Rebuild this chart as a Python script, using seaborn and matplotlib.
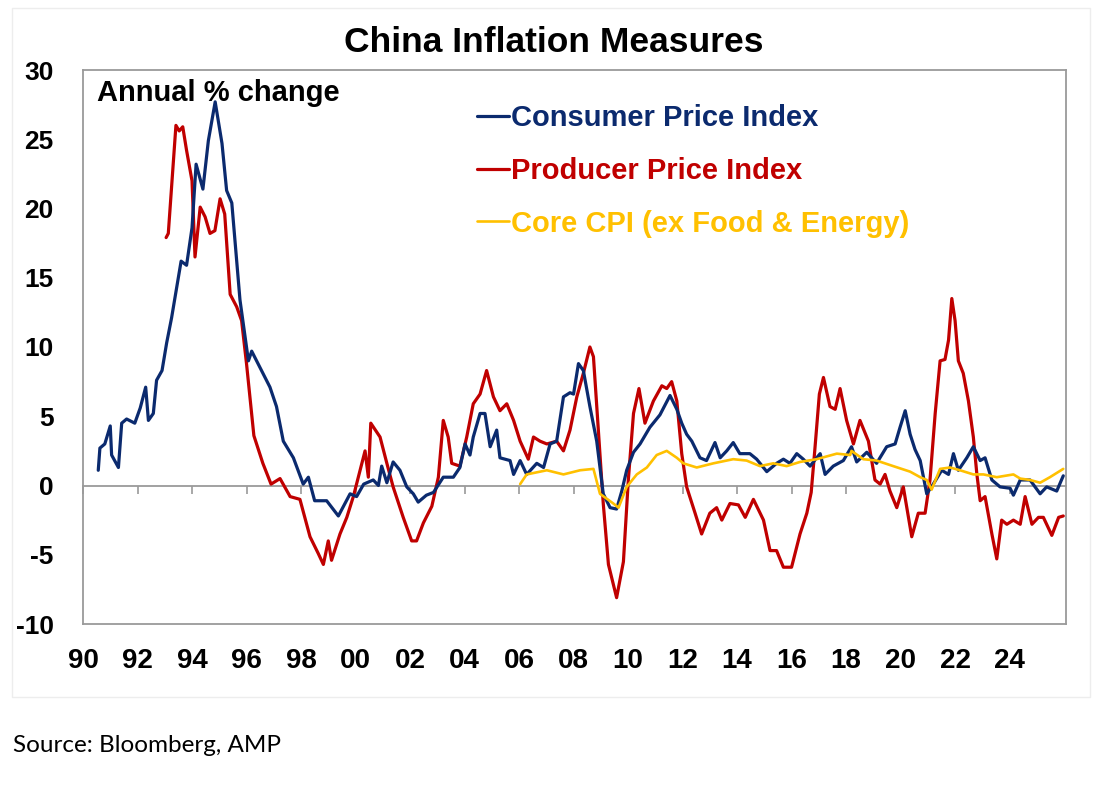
"""China Inflation Measures -> out.png"""
import matplotlib
matplotlib.use("Agg")
import matplotlib.pyplot as plt
from matplotlib.patches import Rectangle
import seaborn as sns
import pandas as pd

# ── data (annual % change) ───────────────────────────────────────────────────
cpi_year = [1990.56, 1990.62, 1990.80, 1991.00, 1991.05, 1991.30, 1991.42, 1991.60, 1991.90,
            1992.10, 1992.30, 1992.40, 1992.58, 1992.70, 1992.90, 1993.07, 1993.25, 1993.44,
            1993.60, 1993.80, 1994.00, 1994.15, 1994.40, 1994.60, 1994.85, 1995.10, 1995.27,
            1995.46, 1995.76, 1996.07, 1996.19, 1996.50, 1996.86, 1997.10, 1997.35, 1997.72,
            1998.08, 1998.27, 1998.50, 1998.94, 1999.37, 1999.80, 2000.04, 2000.30, 2000.65,
            2000.84, 2000.96, 2001.15, 2001.38, 2001.63, 2001.88, 2002.12, 2002.30, 2002.60,
            2002.86, 2003.22, 2003.59, 2003.83, 2004.02, 2004.20, 2004.32, 2004.57, 2004.75,
            2004.94, 2005.18, 2005.30, 2005.67, 2005.80, 2006.04, 2006.28, 2006.65, 2006.90,
            2007.14, 2007.38, 2007.63, 2007.87, 2008.00, 2008.18, 2008.36, 2008.60, 2008.85,
            2009.09, 2009.34, 2009.58, 2009.77, 2009.95, 2010.20, 2010.44, 2010.80, 2011.17,
            2011.54, 2011.79, 2011.97, 2012.15, 2012.34, 2012.64, 2012.88, 2013.19, 2013.38,
            2013.62, 2013.86, 2014.10, 2014.47, 2014.72, 2015.09, 2015.45, 2015.70, 2015.94,
            2016.19, 2016.43, 2016.68, 2016.92, 2017.05, 2017.23, 2017.53, 2017.90, 2018.20,
            2018.39, 2018.76, 2019.12, 2019.49, 2019.80, 2019.98, 2020.17, 2020.35, 2020.53,
            2020.72, 2020.96, 2021.20, 2021.51, 2021.76, 2021.94, 2022.12, 2022.43, 2022.67,
            2022.92, 2023.10, 2023.35, 2023.65, 2024.02, 2024.14, 2024.39, 2024.75, 2025.12,
            2025.36, 2025.73, 2025.97]
cpi = [1.1, 2.7, 3.0, 4.3, 2.2, 1.3, 4.5, 4.8, 4.5,
       5.6, 7.1, 4.7, 5.2, 7.6, 8.3, 10.3, 12.1, 14.3,
       16.2, 15.9, 18.6, 23.2, 21.4, 24.9, 27.7, 24.7, 21.3,
       20.4, 13.4, 9.0, 9.7, 8.5, 7.1, 5.7, 3.2, 2.0,
       0.1, 0.6, -1.1, -1.1, -2.2, -0.6, -0.8, 0.1, 0.4,
       0.0, 1.4, 0.2, 1.7, 1.1, -0.1, -0.6, -1.2, -0.7,
       -0.5, 0.6, 0.6, 1.3, 3.0, 2.2, 3.5, 5.2, 5.2,
       2.8, 4.0, 2.0, 1.8, 0.8, 1.8, 0.8, 1.6, 1.3,
       3.0, 3.2, 6.4, 6.7, 6.6, 8.8, 8.3, 5.7, 3.2,
       -0.6, -1.6, -1.7, -0.4, 1.1, 2.4, 3.0, 4.2, 5.1,
       6.5, 5.5, 4.5, 3.7, 3.2, 2.0, 1.8, 3.1, 2.0,
       2.5, 3.1, 2.3, 2.3, 1.9, 1.0, 1.6, 1.9, 1.6,
       2.3, 1.9, 1.4, 2.0, 2.3, 0.8, 1.4, 1.8, 2.8,
       1.7, 2.4, 1.6, 2.8, 3.0, 4.2, 5.4, 3.7, 2.6,
       1.8, -0.6, 0.1, 1.1, 0.8, 2.3, 1.1, 2.0, 2.8,
       1.8, 2.0, 0.4, -0.1, -0.2, -0.7, 0.4, 0.4, -0.6,
       -0.1, -0.4, 0.7]

ppi_year = [1993.05, 1993.13, 1993.25, 1993.41, 1993.53, 1993.66, 1993.80, 1994.00, 1994.11,
            1994.30, 1994.48, 1994.66, 1994.84, 1995.03, 1995.20, 1995.40, 1995.64, 1995.82,
            1996.00, 1996.27, 1996.60, 1996.90, 1997.23, 1997.60, 1997.96, 1998.33, 1998.63,
            1998.82, 1999.00, 1999.12, 1999.43, 1999.68, 1999.92, 2000.17, 2000.35, 2000.47,
            2000.56, 2000.90, 2001.15, 2001.38, 2001.75, 2002.06, 2002.24, 2002.49, 2002.80,
            2003.04, 2003.22, 2003.40, 2003.53, 2003.83, 2004.08, 2004.32, 2004.57, 2004.81,
            2005.06, 2005.30, 2005.55, 2005.80, 2006.04, 2006.34, 2006.53, 2006.77, 2007.02,
            2007.38, 2007.63, 2007.87, 2008.12, 2008.36, 2008.60, 2008.73, 2008.91, 2009.09,
            2009.28, 2009.58, 2009.83, 2010.01, 2010.20, 2010.40, 2010.62, 2010.93, 2011.24,
            2011.42, 2011.60, 2011.79, 2011.97, 2012.15, 2012.46, 2012.70, 2013.00, 2013.25,
            2013.44, 2013.74, 2014.05, 2014.30, 2014.60, 2014.97, 2015.21, 2015.45, 2015.70,
            2016.00, 2016.31, 2016.56, 2016.72, 2016.85, 2017.02, 2017.17, 2017.41, 2017.60,
            2017.78, 2018.02, 2018.27, 2018.51, 2018.82, 2019.06, 2019.25, 2019.43, 2019.61,
            2019.86, 2020.10, 2020.41, 2020.65, 2020.90, 2021.08, 2021.27, 2021.45, 2021.63,
            2021.76, 2021.88, 2022.00, 2022.12, 2022.30, 2022.49, 2022.67, 2022.80, 2022.92,
            2023.10, 2023.35, 2023.53, 2023.71, 2023.90, 2024.14, 2024.39, 2024.57, 2024.82,
            2025.06, 2025.24, 2025.55, 2025.80, 2025.97]
ppi = [17.9, 18.2, 21.5, 26.0, 25.6, 25.9, 24.2, 22.0, 16.5,
       20.1, 19.4, 18.2, 18.4, 20.7, 19.6, 13.8, 12.9, 11.9,
       8.8, 3.6, 1.6, 0.1, 0.5, -0.8, -1.0, -3.7, -4.9,
       -5.7, -4.0, -5.4, -3.5, -2.3, -0.8, 1.1, 2.5, 0.6,
       4.5, 3.5, 1.6, -0.1, -2.3, -4.0, -4.0, -2.7, -1.5,
       0.6, 4.7, 3.5, 1.6, 1.4, 3.5, 5.9, 6.6, 8.3,
       6.4, 5.4, 5.9, 4.7, 3.2, 1.9, 3.5, 3.2, 3.0,
       3.2, 2.5, 4.0, 6.4, 8.1, 10.0, 9.3, 4.0, -1.3,
       -5.7, -8.1, -5.5, 0.4, 5.2, 7.0, 4.5, 6.1, 7.2,
       7.0, 7.5, 6.1, 2.3, -0.1, -2.0, -3.5, -2.0, -1.6,
       -2.5, -1.3, -1.4, -2.3, -1.0, -2.5, -4.7, -4.7, -5.9,
       -5.9, -3.5, -2.0, -0.5, 2.5, 6.6, 7.8, 5.7, 5.5,
       7.0, 4.7, 3.0, 4.7, 3.2, 0.4, 0.1, 0.8, -0.4,
       -1.6, -0.1, -3.7, -2.0, -2.0, 0.4, 5.2, 9.0, 9.1,
       10.5, 13.5, 11.9, 9.0, 8.1, 6.1, 3.5, 0.8, -1.1,
       -0.8, -3.5, -5.3, -2.5, -2.8, -2.5, -2.8, -0.8, -2.8,
       -2.3, -2.3, -3.6, -2.3, -2.2]

core_year = [2006.04, 2006.28, 2007.02, 2007.63, 2008.24, 2008.73, 2008.97, 2009.46, 2009.65,
             2009.95, 2010.32, 2010.69, 2011.05, 2011.42, 2011.79, 2012.03, 2012.52, 2013.13,
             2013.86, 2014.35, 2014.84, 2015.33, 2015.82, 2016.31, 2016.92, 2017.66, 2018.15,
             2018.20, 2018.63, 2019.12, 2019.73, 2020.35, 2020.72, 2020.96, 2021.14, 2021.45,
             2021.82, 2022.18, 2022.67, 2023.04, 2023.53, 2024.14, 2024.39, 2024.75, 2025.12,
             2025.48, 2025.97]
core = [0.1, 0.8, 1.1, 0.8, 1.1, 1.2, -0.6, -1.3, -1.6,
        -0.1, 0.8, 1.3, 2.2, 2.5, 2.0, 1.6, 1.3, 1.6,
        1.9, 1.8, 1.4, 1.6, 1.4, 1.7, 1.9, 2.3, 2.2,
        2.5, 1.9, 1.8, 1.4, 1.0, 0.6, 0.4, -0.3, 1.2,
        1.3, 1.1, 0.8, 0.8, 0.6, 0.8, 0.5, 0.4, 0.2,
        0.6, 1.2]

x_ticks = list(range(1990, 2025, 2))
x_labels = [f"{y % 100:02d}" for y in x_ticks]
y_ticks = list(range(-10, 31, 5))

NAVY, RED, GOLD, GRAY = "#0B2A6E", "#C00000", "#FFC000", "#9A9A9A"

sns.set_style("white")
plt.rcParams["font.family"] = ["Liberation Sans", "DejaVu Sans"]
plt.rcParams["axes.unicode_minus"] = False
plt.rcParams["text.color"] = "black"
plt.rcParams["xtick.color"] = "black"
plt.rcParams["ytick.color"] = "black"

W, H = 1093, 786
fig = plt.figure(figsize=(W / 100, H / 100), dpi=100)
ax = fig.add_axes([83 / W, 1 - 624 / H, (1066 - 83) / W, (624 - 70) / H])

df_cpi = pd.DataFrame({"year": cpi_year, "val": cpi})
df_ppi = pd.DataFrame({"year": ppi_year, "val": ppi})
df_core = pd.DataFrame({"year": core_year, "val": core})

sns.lineplot(data=df_ppi, x="year", y="val", ax=ax, color=RED, lw=2.3,
             estimator=None, label="Producer Price Index", zorder=2)
sns.lineplot(data=df_cpi, x="year", y="val", ax=ax, color=NAVY, lw=2.3,
             estimator=None, label="Consumer Price Index", zorder=3)
sns.lineplot(data=df_core, x="year", y="val", ax=ax, color=GOLD, lw=1.9,
             estimator=None, label="Core CPI (ex Food & Energy)", zorder=4)

ax.set_xlim(1990, 2026.07)
ax.set_ylim(-10, 30)
ax.set_xlabel(""); ax.set_ylabel("")
ax.set_xticks(x_ticks)
ax.set_xticklabels(x_labels)
ax.set_yticks(y_ticks)
ax.tick_params(axis="x", length=0, pad=17, labelsize=20, labelcolor="black")
ax.tick_params(axis="y", length=9, width=1.2, color=GRAY, direction="out",
               pad=12, labelsize=19, labelcolor="black")
for lab in ax.get_xticklabels() + ax.get_yticklabels():
    lab.set_fontweight("bold")
for sp in ax.spines.values():
    sp.set_color(GRAY); sp.set_linewidth(1.3)

# zero line carrying the year ticks
sec = ax.secondary_xaxis(0.25)
sec.set_xticks(x_ticks)
sec.tick_params(axis="x", length=6, width=1.2, color=GRAY, labelbottom=False)
sec.spines["bottom"].set_color(GRAY)
sec.spines["bottom"].set_linewidth(1.3)

# legend: CPI, PPI, Core with coloured text
h, l = ax.get_legend_handles_labels()
order = [1, 0, 2]
leg = ax.legend([h[i] for i in order], [l[i] for i in order], loc="upper left",
                bbox_to_anchor=(477 / W, 1 - 104 / H), bbox_transform=fig.transFigure,
                frameon=False, prop={"size": 21, "weight": "bold"},
                handlelength=1.1, handletextpad=0.08, labelspacing=0.85,
                borderpad=0, borderaxespad=0)
for txt, ln in zip(leg.get_texts(), leg.get_lines()):
    txt.set_color(ln.get_color())

fig.text(97 / W, 1 - 93 / H, "Annual % change", fontsize=21, fontweight="bold", va="center")
fig.text(554 / W, 1 - 42 / H, "China Inflation Measures", fontsize=25.5,
         fontweight="bold", ha="center", va="center")
fig.text(13 / W, 1 - 745 / H, "Source: Bloomberg, AMP", fontsize=17.5,
         family=["Lato", "DejaVu Sans"], va="center")

fig.patches.append(Rectangle((12 / W, 1 - 697 / H), (1090 - 12) / W, (697 - 8) / H,
                             transform=fig.transFigure, fill=False,
                             edgecolor="#EDEDED", lw=1))

fig.savefig("out.png", dpi=100)
